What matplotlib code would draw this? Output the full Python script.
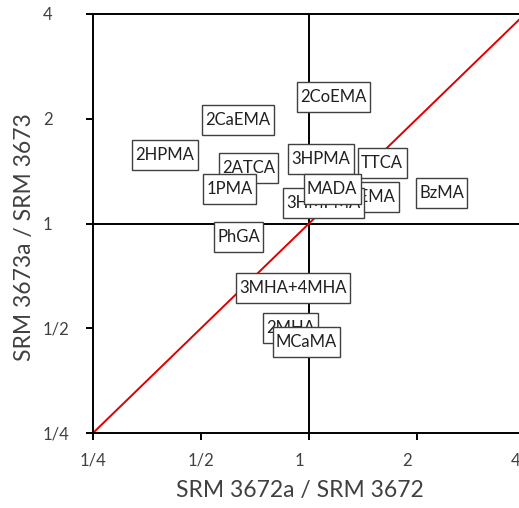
import matplotlib.pyplot as plt
from matplotlib.path import Path
from matplotlib.transforms import ScaledTranslation
import numpy as np

plt.rcParams['font.family'] = ['Lato', 'DejaVu Sans']

# ratio of the new lot over the old lot
LABELS = ['2CoEMA', '2CaEMA', '2HPMA', '2ATCA', '1PMA', '3HPMA', 'TTCA',
          'HEMA', '3HMPMA', 'MADA', 'BzMA', 'PhGA', '3MHA+4MHA', '2MHA', 'MCaMA']
X_RATIO = [1.17, 0.634, 0.397, 0.678, 0.602, 1.08, 1.60,
           1.49, 1.10, 1.16, 2.34, 0.636, 0.902, 0.888, 0.984]
Y_RATIO = [2.31, 1.99, 1.57, 1.44, 1.26, 1.53, 1.49,
           1.19, 1.145, 1.26, 1.225, 0.915, 0.653, 0.50, 0.457]

TICKS = [0.25, 0.5, 1, 2, 4]
TICKLABELS = ['1/4', '1/2', '1', '2', '4']


def label_box(x0, y0, width, height, mutation_size):
    # plain rectangle, narrow at the sides and taller than the text
    px = 0.2 * mutation_size
    py = 0.42 * mutation_size
    x0, x1 = x0 - px, x0 + width + px
    y0, y1 = y0 - py, y0 + height + py
    return Path([(x0, y0), (x1, y0), (x1, y1), (x0, y1), (x0, y0)], closed=True)


W, H = 519, 508
fig = plt.figure(figsize=(W/100, H/100), dpi=100)
ax = fig.add_axes([93/W, 75/H, 432/W, 419/H])

ax.set_xscale('log', base=2)
ax.set_yscale('log', base=2)
ax.set_xlim(0.25, 4)
ax.set_ylim(0.25, 4)

ax.plot([0.25, 4], [0.25, 4], color='#dd0000', lw=1.4, zorder=2)
ax.axvline(1, color='black', lw=1.4, zorder=1)
ax.axhline(1, color='black', lw=1.4, zorder=1)

for name, xv, yv in zip(LABELS, X_RATIO, Y_RATIO):
    ax.text(xv, yv, name, ha='center', va='center', fontsize=12, zorder=3,
            color='#202020',
            bbox=dict(boxstyle=label_box, fc='white', ec='#404040', lw=1))

ax.spines['right'].set_visible(False)
for s in ['left', 'bottom', 'top']:
    ax.spines[s].set_linewidth(1.4)

ax.xaxis.set_minor_locator(plt.NullLocator())
ax.yaxis.set_minor_locator(plt.NullLocator())
ax.set_xticks(TICKS)
ax.set_xticklabels([])
ax.set_yticks(TICKS)
ax.set_yticklabels(TICKLABELS)
ax.tick_params(axis='x', direction='out', length=5, width=1.4)
ax.tick_params(axis='y', direction='out', length=5, width=1.4, pad=31, labelsize=12)
for lab in ax.get_yticklabels():
    lab.set_ha('left')
ax.tick_params(colors='black', labelcolor='#404040')

# fraction number format pads whole numbers, so they sit left of their tick
xtrans = ax.get_xaxis_transform()
for tv, tl in zip(TICKS, TICKLABELS):
    shift = 0 if '/' in tl else -7 / 72
    ax.text(tv, 0, tl, ha='center', va='center', fontsize=12, color='#404040',
            transform=xtrans + ScaledTranslation(shift, -28 / 100, fig.dpi_scale_trans),
            clip_on=False)

fig.text(300/W, 1 - 491/H, 'SRM 3672a / SRM 3672', ha='center', va='center',
         fontsize=16.5, color='#404040')
fig.text(25/W, 1 - 237/H, 'SRM 3673a / SRM 3673', ha='center', va='center',
         fontsize=16.5, color='#404040', rotation=90)

fig.savefig('out.png', dpi=100)
